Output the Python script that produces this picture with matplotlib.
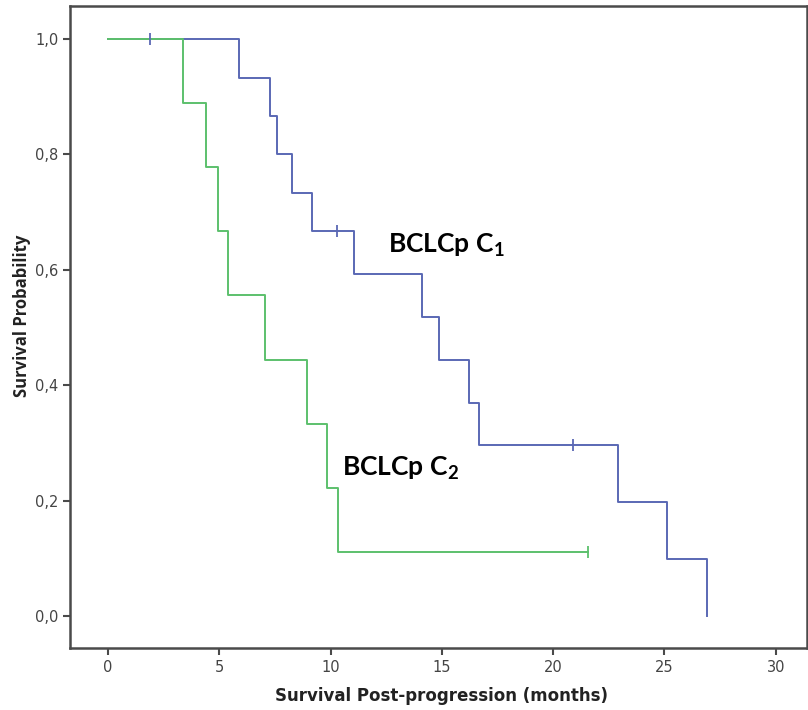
import matplotlib

matplotlib.use("Agg")

import matplotlib.pyplot as plt  # noqa: E402

plt.rcParams["mathtext.fontset"] = "custom"
plt.rcParams["mathtext.rm"] = "Lato"
plt.rcParams["mathtext.bf"] = "Lato:bold"

# Kaplan-Meier steps (time in months, survival after step)
c1_times = [0, 5.9, 7.3, 7.6, 8.25, 9.15, 11.05, 14.1, 14.85, 16.2, 16.65, 22.9, 25.1, 26.9]
c1_surv = [1.0, 0.933, 0.867, 0.800, 0.733, 0.667, 0.593, 0.519, 0.444, 0.370, 0.296, 0.198, 0.099, 0.0]
c1_cens_t = [1.9, 10.3, 20.9]
c1_cens_s = [1.0, 0.667, 0.296]

c2_times = [0, 3.37, 4.4, 4.95, 5.4, 7.05, 8.95, 9.85, 10.35, 21.55]
c2_surv = [1.0, 0.889, 0.778, 0.667, 0.556, 0.444, 0.333, 0.222, 0.111, 0.111]
c2_cens_t = [21.55]
c2_cens_s = [0.111]

x_ticks = [0, 5, 10, 15, 20, 25, 30]
y_ticks = [0.0, 0.2, 0.4, 0.6, 0.8, 1.0]
y_tick_labels = ["0,0", "0,2", "0,4", "0,6", "0,8", "1,0"]

BLUE = "#5a68b4"
GREEN = "#5cc06c"
SPINE = "#4a4a4a"

fig = plt.figure(figsize=(8.08, 7.10), dpi=100)
ax = fig.add_axes([70 / 808, 62 / 710, 737 / 808, 642 / 710])

ax.step(c1_times, c1_surv, where="post", color=BLUE, lw=1.4)
ax.step(c2_times, c2_surv, where="post", color=GREEN, lw=1.4)
ax.plot(c1_cens_t, c1_cens_s, ls="none", marker="|", ms=8, mew=1.3, color=BLUE)
ax.plot(c2_cens_t, c2_cens_s, ls="none", marker="|", ms=8, mew=1.3, color=GREEN)

ax.text(12.6, 0.643, "BCLCp C$_\\mathbf{1}$", fontsize=19, fontweight="bold",
        family="Lato", va="center", ha="left")
ax.text(10.5, 0.257, "BCLCp C$_\\mathbf{2}$", fontsize=19, fontweight="bold",
        family="Lato", va="center", ha="left")

ax.set_xlim(-1.7, 31.4)
ax.set_ylim(-0.055, 1.057)
ax.set_xticks(x_ticks)
ax.set_yticks(y_ticks)
ax.set_yticklabels(y_tick_labels)
ax.tick_params(direction="out", length=5, width=1.5, color=SPINE,
               labelsize=10.5, labelcolor="#444444")
for s in ax.spines.values():
    s.set_color(SPINE)
    s.set_linewidth(1.8)

ax.set_xlabel("Survival Post-progression (months)", fontsize=12, fontweight="bold",
              family="DejaVu Sans", color="#222222")
ax.set_ylabel("Survival Probability", fontsize=12, fontweight="bold",
              family="Open Sans", color="#222222")
ax.xaxis.set_label_coords((441 - 70) / 737, -(696 - 648) / 642)
ax.yaxis.set_label_coords(-(70 - 22) / 737, (710 - 62 - 316) / 642)
ax.xaxis.label.set_va("center")
ax.yaxis.label.set_va("center")

fig.savefig("out.png", dpi=100)
